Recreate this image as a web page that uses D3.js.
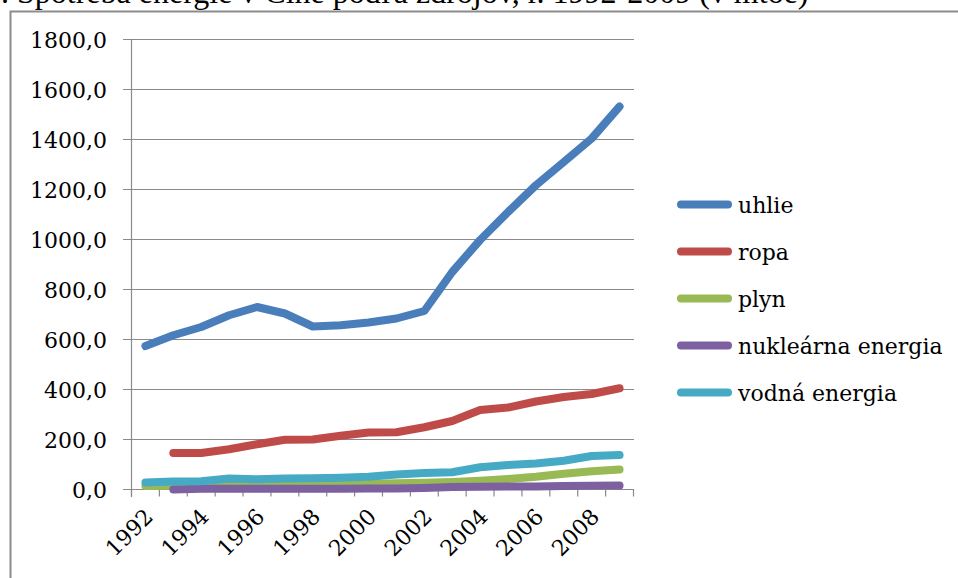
<!DOCTYPE html>
<html lang="sk">
<head>
  <meta charset="UTF-8">
  <title>Spotreba energie v Číne</title>
  <style>
    body { margin: 0; background: #fff; }
    svg { display: block; }
    text { fill: #000; }
  </style>
  <script src="https://d3js.org/d3.v7.min.js"></script>
</head>
<body>
  <svg width="958" height="578"></svg>
  <script>
    // roky a hodnoty (mtoe), odčítané z grafu
    const years = d3.range(1992, 2010);
    const uhlie = [574, 617, 650, 697, 730, 704, 652, 657, 668, 684, 714, 870, 998, 1110, 1217, 1310, 1404, 1532];
    const ropa = [null, 146, 146, 161, 181, 199, 200, 215, 228, 229, 249, 274, 318, 328, 352, 370, 382, 405];
    const plyn = [14, 15, 15, 16, 17, 18, 18, 19, 22, 25, 27, 30, 35, 42, 51, 63, 73, 80];
    const nuklearna = [null, 0.4, 3.2, 2.9, 3.2, 3.3, 3.2, 3.4, 3.8, 4.0, 5.7, 9.8, 11.4, 12.0, 12.4, 14.1, 15.5, 15.9];
    const vodna = [28, 32, 33, 44, 41, 44, 45, 47, 51, 60, 66, 69, 89, 98, 104, 115, 134, 138];
    const yTicks = [0, 200, 400, 600, 800, 1000, 1200, 1400, 1600, 1800];
    const xLabels = years.filter(y => y % 2 === 0);

    const series = [
      { name: "uhlie", values: uhlie, color: "#4a7ebb" },
      { name: "ropa", values: ropa, color: "#be4b48" },
      { name: "plyn", values: plyn, color: "#98b954" },
      { name: "nukleárna energia", values: nuklearna, color: "#7d60a0" },
      { name: "vodná energia", values: vodna, color: "#46aac5" }
    ];

    const serif = "'DejaVu Serif', serif";
    const svg = d3.select("svg");

    // titulok (orezaný hore ako v predlohe)
    svg.append("text")
      .attr("x", 1).attr("y", 3)
      .attr("font-family", "'Liberation Serif', 'Times New Roman', serif")
      .attr("font-size", 32)
      .text(". Spotreba energie v Číne podľa zdrojov, r. 1992-2009 (v mtoe)");

    // rám grafu
    svg.append("rect")
      .attr("x", 10.5).attr("y", 11.5)
      .attr("width", 1000).attr("height", 600)
      .attr("fill", "none").attr("stroke", "#8c8c8c").attr("stroke-width", 2);

    const x = d3.scaleBand().domain(years).range([131.5, 633.5]);
    const y = d3.scaleLinear().domain([0, 1800]).range([489.5, 39.5]);

    // mriežka
    svg.append("g").selectAll("line")
      .data(yTicks)
      .enter().append("line")
      .attr("x1", 123).attr("x2", 634)
      .attr("y1", d => y(d)).attr("y2", d => y(d))
      .attr("stroke", "#8a8a8a").attr("stroke-width", 1.2);

    // os y
    svg.append("line")
      .attr("x1", 131.5).attr("x2", 131.5)
      .attr("y1", y(1800)).attr("y2", 497)
      .attr("stroke", "#8a8a8a").attr("stroke-width", 1.2);

    svg.append("g").selectAll("text")
      .data(yTicks)
      .enter().append("text")
      .attr("x", 107).attr("y", d => y(d) + 8)
      .attr("text-anchor", "end")
      .attr("font-family", serif)
      .attr("font-size", 22)
      .text(d => d3.format(".1f")(d).replace(".", ","));

    // os x
    const xTicks = years.map(d => x(d)).concat([x.range()[1]]);
    svg.append("g").selectAll("line")
      .data(xTicks)
      .enter().append("line")
      .attr("x1", d => d).attr("x2", d => d)
      .attr("y1", y(0)).attr("y2", y(0) + 7)
      .attr("stroke", "#8a8a8a").attr("stroke-width", 1.2);

    svg.append("g").selectAll("text")
      .data(xLabels)
      .enter().append("text")
      .attr("text-anchor", "end")
      .attr("transform", d => `translate(${x(d) + x.bandwidth() / 2 + 9},${518}) rotate(-45)`)
      .attr("font-family", serif)
      .attr("font-size", 22)
      .text(d => d);

    // čiary
    const line = d3.line()
      .defined(d => d.v !== null)
      .x(d => x(d.year) + x.bandwidth() / 2)
      .y(d => y(d.v));

    svg.append("g").selectAll("path")
      .data(series)
      .enter().append("path")
      .attr("d", s => line(years.map((yr, i) => ({ year: yr, v: s.values[i] }))))
      .attr("fill", "none")
      .attr("stroke", s => s.color)
      .attr("stroke-width", 8)
      .attr("stroke-linecap", "round")
      .attr("stroke-linejoin", "round");

    // legenda
    const legend = svg.append("g").selectAll("g")
      .data(series)
      .enter().append("g")
      .attr("transform", (d, i) => `translate(0,${204.5 + i * 47})`);
    legend.append("line")
      .attr("x1", 681).attr("x2", 728)
      .attr("stroke", d => d.color)
      .attr("stroke-width", 8)
      .attr("stroke-linecap", "round");
    legend.append("text")
      .attr("x", 738).attr("y", 8)
      .attr("font-family", serif)
      .attr("font-size", 22)
      .text(d => d.name);
  </script>
</body>
</html>
